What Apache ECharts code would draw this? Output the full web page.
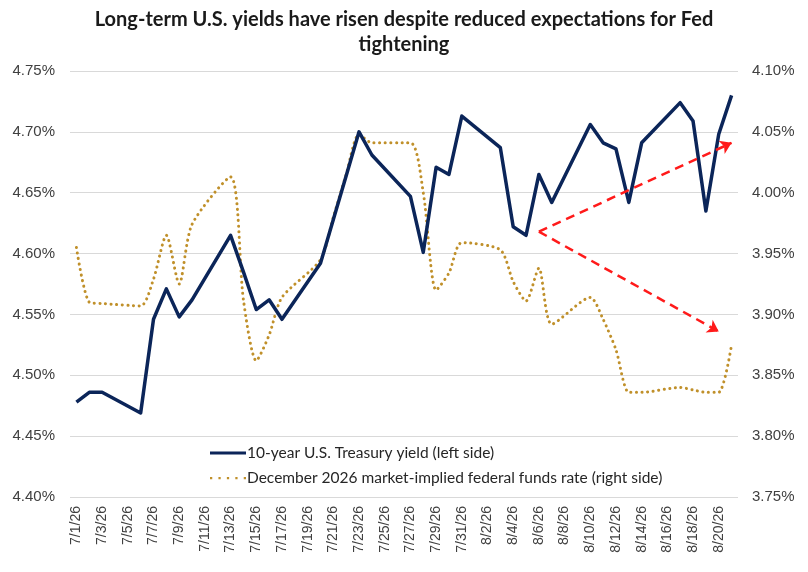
<!DOCTYPE html>
<html>
<head>
<meta charset="utf-8">
<script src="https://cdn.jsdelivr.net/npm/echarts@6/dist/echarts.min.js"></script>
<style>
  html, body { margin: 0; padding: 0; background: #fff; }
  #main { width: 808px; height: 572px; }
</style>
</head>
<body>
<div id="main"></div>
<script>
// calendar days 7/1/26 .. 8/21/26, weekends left empty (null)
const days = [
  '7/1/26','7/2/26','7/3/26','7/4/26','7/5/26','7/6/26','7/7/26','7/8/26','7/9/26','7/10/26',
  '7/11/26','7/12/26','7/13/26','7/14/26','7/15/26','7/16/26','7/17/26','7/18/26','7/19/26','7/20/26',
  '7/21/26','7/22/26','7/23/26','7/24/26','7/25/26','7/26/26','7/27/26','7/28/26','7/29/26','7/30/26',
  '7/31/26','8/1/26','8/2/26','8/3/26','8/4/26','8/5/26','8/6/26','8/7/26','8/8/26','8/9/26',
  '8/10/26','8/11/26','8/12/26','8/13/26','8/14/26','8/15/26','8/16/26','8/17/26','8/18/26','8/19/26',
  '8/20/26','8/21/26'
]

const treasury10y = [
  4.478, 4.486, 4.486, null, null, 4.469, 4.546, 4.571, 4.548, 4.562,
  null, null, 4.615, 4.585, 4.554, 4.562, 4.546, null, null, 4.592,
  4.628, 4.664, 4.700, 4.681, null, null, 4.647, 4.601, 4.671, 4.665,
  4.713, null, null, 4.687, 4.622, 4.615, 4.665, 4.642, null, null,
  4.706, 4.691, 4.686, 4.642, 4.691, null, null, 4.724, 4.709, 4.635,
  4.698, 4.730
]

const fedFundsDec26 = [
  3.955, 3.910, 3.909, null, null, 3.907, 3.929, 3.965, 3.925, 3.974,
  null, null, 4.013, 3.912, 3.862, 3.883, 3.914, null, null, 3.945,
  3.980, 4.015, 4.048, 4.041, null, null, 4.041, 4.000, 3.920, 3.934,
  3.959, null, null, 3.953, 3.927, 3.911, 3.938, 3.892, null, null,
  3.914, 3.896, 3.871, 3.836, 3.836, null, null, 3.840, 3.838, 3.836,
  3.836, 3.875
]

// red dashed arrows, in left-axis terms
const arrowStart = ['8/6/26', 4.618]
const arrowUpEnd = ['8/21/26', 4.691]
const arrowDownEnd = ['8/20/26', 4.536]

const leftName = '10-year U.S. Treasury yield (left side)'
const rightName = 'December 2026 market-implied federal funds rate (right side)'

const navy = '#0B2559'
const gold = '#C0902A'
const labelFont = '"Liberation Sans", Arial, sans-serif'

const chart = echarts.init(document.getElementById('main'))

const pct = v => v.toFixed(2) + '%'

const option = {
  animation: false,
  title: {
    text: 'Long-term U.S. yields have risen despite reduced expectations for Fed\ntightening',
    left: 'center',
    top: 2,
    textStyle: {
      fontFamily: 'Lato',
      fontWeight: 'bold',
      fontSize: 20,
      lineHeight: 25,
      color: '#1a1a1a'
    }
  },
  legend: {
    orient: 'vertical',
    left: 205,
    top: 440,
    itemWidth: 36,
    itemHeight: 10,
    itemGap: 9,
    itemStyle: { borderWidth: 0 },
    textStyle: {
      fontFamily: 'Lato',
      fontSize: 15.5,
      color: '#262626',
      padding: [0, 0, 0, -4]
    },
    data: [
      { name: leftName, icon: 'path://M0,3.4 L36,3.4 L36,6.6 L0,6.6 Z', itemStyle: { color: navy } },
      { name: rightName, icon: 'path://M1,4 h2 v2 h-2 Z M8.5,4 h2 v2 h-2 Z M16,4 h2 v2 h-2 Z M23.5,4 h2 v2 h-2 Z M31,4 h2 v2 h-2 Z', itemStyle: { color: gold } }
    ]
  },
  grid: { left: 70, right: 70, top: 71, bottom: 75 },
  xAxis: {
    type: 'category',
    data: days,
    boundaryGap: true,
    axisLine: { show: false },
    axisTick: { show: false },
    axisLabel: {
      interval: 1,
      rotate: 90,
      margin: 9,
      fontFamily: labelFont,
      fontSize: 14,
      color: '#404040'
    }
  },
  yAxis: [
    {
      type: 'value',
      min: 4.40,
      max: 4.75,
      interval: 0.05,
      axisLine: { show: false },
      axisTick: { show: false },
      splitLine: { lineStyle: { color: '#d9d9d9', width: 1 } },
      axisLabel: {
        formatter: pct,
        margin: 15,
        fontFamily: labelFont,
        fontSize: 15,
        color: '#404040'
      }
    },
    {
      type: 'value',
      min: 3.75,
      max: 4.10,
      interval: 0.05,
      axisLine: { show: false },
      axisTick: { show: false },
      splitLine: { show: false },
      axisLabel: {
        formatter: pct,
        margin: 14,
        fontFamily: labelFont,
        fontSize: 15,
        color: '#404040'
      }
    }
  ],
  series: [
    {
      name: leftName,
      type: 'line',
      yAxisIndex: 0,
      data: treasury10y,
      connectNulls: true,
      symbol: 'none',
      lineStyle: { color: navy, width: 3.5, join: 'round' },
      itemStyle: { color: navy },
      z: 3,
      markLine: {
        silent: true,
        symbol: ['none', 'arrow'],
        symbolSize: [11, 11],
        label: { show: false },
        lineStyle: { color: '#FF1A1A', width: 2.5, type: [9, 6] },
        data: [
          [{ coord: arrowStart }, { coord: arrowUpEnd }],
          [{ coord: arrowStart }, { coord: arrowDownEnd }]
        ]
      }
    },
    {
      name: rightName,
      type: 'line',
      yAxisIndex: 1,
      data: fedFundsDec26,
      connectNulls: true,
      smooth: 0.25,
      symbol: 'none',
      lineStyle: { color: gold, width: 3, type: [0.1, 5.5], cap: 'round' },
      itemStyle: { color: gold },
      z: 2
    }
  ]
}

chart.setOption(option)
</script>
</body>
</html>
